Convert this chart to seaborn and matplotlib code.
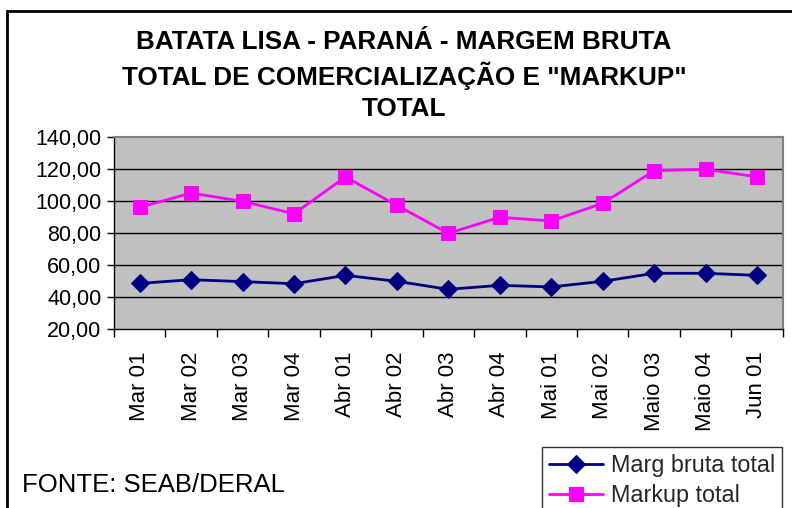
import pandas as pd
import matplotlib.pyplot as plt
import seaborn as sns
from matplotlib.patches import Rectangle
from matplotlib.ticker import FuncFormatter, FixedLocator

# Periods on the x axis
periodos = ['Mar 01', 'Mar 02', 'Mar 03', 'Mar 04', 'Abr 01', 'Abr 02', 'Abr 03',
            'Abr 04', 'Mai 01', 'Mai 02', 'Maio 03', 'Maio 04', 'Jun 01']

# Values
marg_bruta = [48.6, 50.9, 49.7, 48.4, 53.6, 49.9, 44.9, 47.4, 46.4, 49.9, 54.9, 54.9, 53.6]
markup = [96.0, 104.9, 99.7, 92.0, 114.9, 97.2, 79.8, 89.8, 87.5, 98.5, 118.8, 119.7, 115.0]

y_ticks = [20, 40, 60, 80, 100, 120, 140]
title_lines = ['BATATA LISA - PARANÁ - MARGEM BRUTA',
               'TOTAL DE COMERCIALIZAÇÃO E "MARKUP"',
               'TOTAL']
fonte = 'FONTE: SEAB/DERAL'

df = pd.DataFrame({'periodo': periodos, 'marg': marg_bruta, 'markup': markup})

sns.set_theme(style='white')
plt.rcParams['font.family'] = ['Liberation Sans', 'DejaVu Sans']

fig = plt.figure(figsize=(7.92, 5.08), dpi=100)
ax = fig.add_axes([114 / 792, 1 - 329.3 / 508, (782.7 - 114) / 792, (329.3 - 136.7) / 508])
ax.set_facecolor('#C0C0C0')

sns.lineplot(data=df, x='periodo', y='marg', ax=ax, sort=False, color='#000080',
             linewidth=2, marker='D', markersize=9, markeredgecolor='#000080',
             label='Marg bruta total')
sns.lineplot(data=df, x='periodo', y='markup', ax=ax, sort=False, color='#FF00FF',
             linewidth=2, marker='s', markersize=10, markeredgecolor='#FF00FF',
             label='Markup total')

ax.set_xlim(-0.5, len(periodos) - 0.5)
ax.set_ylim(20, 140)
ax.set_xlabel('')
ax.set_ylabel('')

# y axis
ax.set_yticks(y_ticks)
ax.yaxis.set_major_formatter(FuncFormatter(lambda v, p: f'{v:.2f}'.replace('.', ',')))
ax.tick_params(axis='y', which='major', left=True, length=5, width=1, color='black',
               direction='out', pad=4, labelsize=15.5, labelcolor='black')
for y in y_ticks[1:-1]:
    ax.axhline(y, color='black', linewidth=1, zorder=1)

# x axis: labels at categories, ticks between categories
ax.tick_params(axis='x', which='major', bottom=False, length=0, pad=16,
               labelsize=16, labelcolor='black', labelrotation=90)
ax.xaxis.set_minor_locator(FixedLocator([i - 0.5 for i in range(len(periodos) + 1)]))
ax.tick_params(axis='x', which='minor', bottom=True, length=6, width=1, color='black',
               direction='out')

for side in ['top', 'right']:
    ax.spines[side].set_color('#808080')
    ax.spines[side].set_linewidth(1.5)
for side in ['left', 'bottom']:
    ax.spines[side].set_color('black')
    ax.spines[side].set_linewidth(1)

# title
for i, line in enumerate(title_lines):
    fig.text(404 / 792, 1 - (42 + 33.5 * i) / 508, line, ha='center', va='center',
             fontsize=18.8, fontweight='bold', color='black')

fig.text(22 / 792, 1 - 492 / 508, fonte, ha='left', va='baseline', fontsize=18.5,
         color='black')

leg = ax.legend(loc='upper left', bbox_to_anchor=(542 / 792, 1 - 447 / 508),
                bbox_transform=fig.transFigure, frameon=True, fancybox=False,
                edgecolor='black', facecolor='white', fontsize=16.8, handlelength=2.3,
                borderaxespad=0, borderpad=0.3, labelspacing=0.3, handletextpad=0.35)
leg.get_frame().set_linewidth(1)
leg.set_clip_on(False)

# outer chart frame
fig.add_artist(Rectangle((7 / 792, -0.2), 1.2, 1.2 - 11 / 508,
                         transform=fig.transFigure, fill=False, edgecolor='black',
                         linewidth=2, clip_on=False))

plt.savefig('out.png', dpi=100)
plt.close()
